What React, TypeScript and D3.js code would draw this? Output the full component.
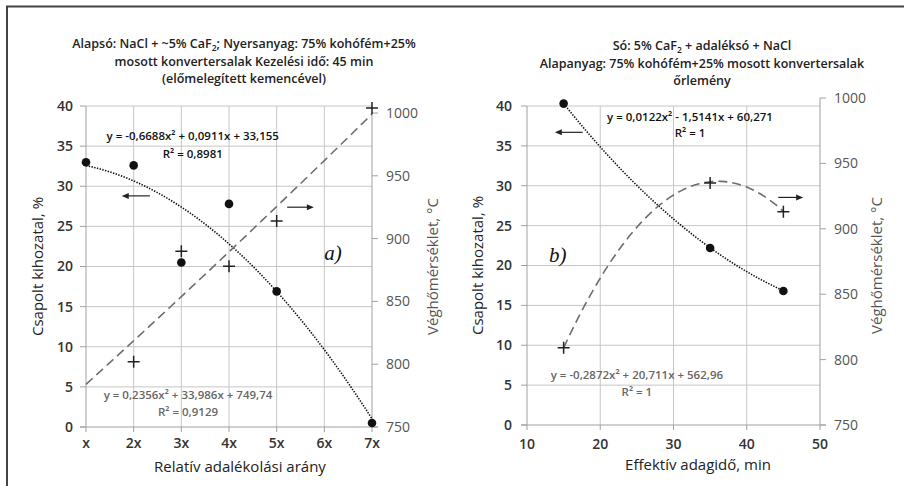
import * as d3 from 'd3';
import { useEffect, useRef } from 'react';

const W = 904;
const H = 486;

// ---- panel a) : relative additive ratio ----
const aCats = ['x', '2x', '3x', '4x', '5x', '6x', '7x'];
const aYieldX = [1, 2, 3, 4, 5, 7];
const aYield = [33.0, 32.6, 20.5, 27.8, 16.9, 0.5];
const aTempX = [2, 3, 4, 5, 7];
const aTemp = [802, 890, 878, 914, 1004];
const aYieldFit = [-0.6688, 0.0911, 33.155];
const aTempFit = [0.2356, 33.986, 749.74];
const aTitle = ['Alapsó: NaCl + ~5% CaF|2|; Nyersanyag: 75% kohófém+25%', 'mosott konvertersalak Kezelési idő: 45 min', '(előmelegített kemencével)'];

// ---- panel b) : effective batch time ----
const bTicks = [10, 20, 30, 40, 50];
const bTime = [15, 35, 45];
const bYield = [40.3, 22.2, 16.8];
const bTemp = [809, 935, 913];
const bYieldFit = [0.0122, -1.5141, 60.271];
const bTempFit = [-0.2872, 20.711, 562.96];
const bTitle = ['Só: 5% CaF|2| + adaléksó + NaCl', 'Alapanyag: 75% kohófém+25% mosott konvertersalak', 'őrlemény'];

const yieldTicks = [0, 5, 10, 15, 20, 25, 30, 35, 40];
const tempTicks = [750, 800, 850, 900, 950, 1000];

const FONT = "'Open Sans', sans-serif";

const poly = (c: number[]) => (x: number) => c[0] * x * x + c[1] * x + c[2];

function drawPanel(svg, cfg) {
  const { x0, x1, yTop, yBot, rTop, xDomain } = cfg;
  const x = d3.scaleLinear().domain(xDomain).range([x0, x1]);
  const yL = d3.scaleLinear().domain([0, 40]).range([yBot, yTop]);
  const yR = d3.scaleLinear().domain([750, 1000]).range([yBot, rTop]);
  const g = svg.append('g');

  // title (|..| marks a subscript)
  cfg.title.forEach((line, i) => {
    const t = g.append('text')
      .attr('x', cfg.titleX)
      .attr('y', cfg.titleY + i * 17.5)
      .attr('text-anchor', 'middle')
      .attr('font-size', 12.5)
      .attr('font-weight', 600)
      .attr('fill', '#222');
    let shift = 0;
    line.split('|').forEach((part, j) => {
      const sub = j % 2 === 1;
      const dy = sub ? 3 : -shift;
      shift = sub ? 3 : 0;
      t.append('tspan').attr('dy', dy).attr('font-size', sub ? 8.5 : null).text(part);
    });
  });

  // gridlines
  g.append('g').selectAll('line').data(yieldTicks.slice(1)).join('line')
    .attr('x1', x0).attr('x2', x1)
    .attr('y1', (d) => yL(d)).attr('y2', (d) => yL(d))
    .attr('stroke', '#c6c6c6');
  g.append('g').selectAll('line').data(cfg.vTicks.slice(1, -1)).join('line')
    .attr('x1', (d) => x(d)).attr('x2', (d) => x(d))
    .attr('y1', yTop).attr('y2', yBot)
    .attr('stroke', '#c6c6c6');

  // axes lines
  g.append('line').attr('x1', x0).attr('x2', x0).attr('y1', yTop).attr('y2', yBot).attr('stroke', '#a0a0a0');
  g.append('line').attr('x1', x1).attr('x2', x1).attr('y1', rTop).attr('y2', yBot).attr('stroke', '#a0a0a0');
  g.append('line').attr('x1', x0 - 6).attr('x2', x1 + 6).attr('y1', yBot).attr('y2', yBot).attr('stroke', '#a0a0a0');

  // left ticks
  g.append('g').selectAll('line').data(yieldTicks).join('line')
    .attr('x1', x0 - 6).attr('x2', x0).attr('y1', (d) => yL(d)).attr('y2', (d) => yL(d)).attr('stroke', '#a0a0a0');
  g.append('g').selectAll('text').data(yieldTicks).join('text')
    .attr('x', x0 - cfg.lGap).attr('y', (d) => yL(d)).attr('dy', '0.35em')
    .attr('text-anchor', 'end').attr('font-size', 14).attr('font-weight', 600).attr('fill', '#333')
    .text((d) => d);

  // right ticks
  g.append('g').selectAll('line').data(tempTicks).join('line')
    .attr('x1', x1).attr('x2', x1 + 6).attr('y1', (d) => yR(d)).attr('y2', (d) => yR(d)).attr('stroke', '#a0a0a0');
  g.append('g').selectAll('text').data(tempTicks).join('text')
    .attr('x', x1 + cfg.rGap).attr('y', (d) => yR(d)).attr('dy', '0.35em')
    .attr('font-size', 14).attr('fill', '#555')
    .text((d) => d);

  // x ticks
  g.append('g').selectAll('line').data(cfg.vTicks).join('line')
    .attr('x1', (d) => x(d)).attr('x2', (d) => x(d)).attr('y1', yBot).attr('y2', yBot + 5).attr('stroke', '#a0a0a0');
  g.append('g').selectAll('text').data(cfg.vTicks).join('text')
    .attr('x', (d) => x(d)).attr('y', cfg.xTickY).attr('dy', '0.35em')
    .attr('text-anchor', 'middle').attr('font-size', 14).attr('font-weight', 600).attr('fill', '#333')
    .text((d, i) => cfg.vLabels[i]);

  // axis titles
  g.append('text').attr('transform', `translate(${cfg.lTitleX},${(yTop + yBot) / 2}) rotate(-90)`)
    .attr('text-anchor', 'middle').attr('dy', '0.35em').attr('font-size', 15).attr('fill', '#222')
    .text('Csapolt kihozatal, %');
  g.append('text').attr('transform', `translate(${cfg.rTitleX},${(yTop + yBot) / 2}) rotate(-90)`)
    .attr('text-anchor', 'middle').attr('dy', '0.35em').attr('font-size', 15).attr('fill', '#555')
    .text('Véghőmérséklet, °C');
  g.append('text').attr('x', cfg.xTitleX).attr('y', cfg.xTitleY).attr('dy', '0.35em')
    .attr('text-anchor', 'middle').attr('font-size', 15).attr('fill', '#222')
    .text(cfg.xTitle);

  // trendlines
  const xs = d3.range(cfg.fitRange[0], cfg.fitRange[1] + 1e-9, (cfg.fitRange[1] - cfg.fitRange[0]) / 60);
  const fy = poly(cfg.yieldFit);
  const ft = poly(cfg.tempFit);
  g.append('path')
    .attr('d', d3.line().x((d) => x(d)).y((d) => yL(fy(d)))(xs))
    .attr('fill', 'none').attr('stroke', '#111').attr('stroke-width', 1.6).attr('stroke-dasharray', '1.4 1.4');
  g.append('path')
    .attr('d', d3.line().x((d) => x(d)).y((d) => yR(ft(d)))(xs))
    .attr('fill', 'none').attr('stroke', '#6e6e6e').attr('stroke-width', 1.6).attr('stroke-dasharray', '9 5');

  // points
  g.append('g').selectAll('circle').data(cfg.yX).join('circle')
    .attr('cx', (d) => x(d)).attr('cy', (d, i) => yL(cfg.yV[i])).attr('r', 4.3).attr('fill', '#111');
  g.append('g').selectAll('path').data(cfg.tX).join('path')
    .attr('d', (d, i) => {
      const px = x(d), py = yR(cfg.tV[i]);
      return `M${px - 6},${py}H${px + 6}M${px},${py - 6}V${py + 6}`;
    })
    .attr('stroke', '#222').attr('stroke-width', 1.5);

  // arrows
  cfg.arrows.forEach((a) => {
    const sy = a.axis === 'L' ? yL(a.y) : yR(a.y);
    const xa = x(a.from), xb = x(a.to);
    const dir = Math.sign(xb - xa);
    g.append('line').attr('x1', xa).attr('x2', xb - dir * 5).attr('y1', sy).attr('y2', sy).attr('stroke', '#222').attr('stroke-width', 1.2);
    g.append('path').attr('d', `M${xb},${sy}L${xb - dir * 7},${sy - 3}L${xb - dir * 7},${sy + 3}Z`).attr('fill', '#222');
  });

  // labels / equations
  cfg.notes.forEach((n) => {
    g.append('text').attr('x', x(n.x)).attr('y', yL(n.y)).attr('dy', '0.35em')
      .attr('text-anchor', 'middle')
      .attr('font-size', n.size).attr('fill', n.color)
      .attr('font-family', n.serif ? "'Liberation Serif', serif" : FONT)
      .attr('font-style', n.serif ? 'italic' : 'normal')
      .attr('font-weight', n.serif ? 400 : 600)
      .text(n.text);
  });
}

export default function App() {
  const ref = useRef<SVGSVGElement>(null);

  useEffect(() => {
    const svg = d3.select(ref.current);
    svg.selectAll('*').remove();
    svg.attr('font-family', FONT);
    svg.append('rect').attr('width', W).attr('height', H).attr('fill', '#fff');
    // frame
    svg.append('line').attr('x1', 6).attr('x2', W).attr('y1', 6.5).attr('y2', 6.5).attr('stroke', '#444').attr('stroke-width', 2);
    svg.append('line').attr('x1', 7).attr('x2', 7).attr('y1', 6).attr('y2', H).attr('stroke', '#444').attr('stroke-width', 2);

    drawPanel(svg, {
      x0: 86, x1: 372, yTop: 106, yBot: 427, rTop: 113,
      xDomain: [1, 7], vTicks: [1, 2, 3, 4, 5, 6, 7], vLabels: aCats,
      title: aTitle, titleX: 244, titleY: 48,
      lGap: 13, rGap: 14, xTickY: 443,
      lTitleX: 38, rTitleX: 433, xTitleX: 240, xTitleY: 467,
      xTitle: 'Relatív adalékolási arány',
      fitRange: [1, 7], yieldFit: aYieldFit, tempFit: aTempFit,
      yX: aYieldX, yV: aYield, tX: aTempX, tV: aTemp,
      arrows: [
        { from: 2.34, to: 1.75, y: 28.8, axis: 'L' },
        { from: 5.22, to: 5.78, y: 925, axis: 'R' },
      ],
      notes: [
        { x: 3.24, y: 36.3, text: 'y = -0,6688x² + 0,0911x + 33,155', size: 11.5, color: '#111' },
        { x: 3.24, y: 34.0, text: 'R² = 0,8981', size: 11.5, color: '#111' },
        { x: 3.14, y: 3.99, text: 'y = 0,2356x² + 33,986x + 749,74', size: 11.5, color: '#666' },
        { x: 3.14, y: 1.87, text: 'R² = 0,9129', size: 11.5, color: '#666' },
        { x: 6.18, y: 21.7, text: 'a)', size: 21, color: '#111', serif: true },
      ],
    });

    drawPanel(svg, {
      x0: 527, x1: 820, yTop: 106, yBot: 425, rTop: 98,
      xDomain: [10, 50], vTicks: bTicks, vLabels: bTicks.map(String),
      title: bTitle, titleX: 702, titleY: 50,
      lGap: 15, rGap: 14, xTickY: 444,
      lTitleX: 478, rTitleX: 877, xTitleX: 698, xTitleY: 465,
      xTitle: 'Effektív adagidő, min',
      fitRange: [15, 45], yieldFit: bYieldFit, tempFit: bTempFit,
      yX: bTime, yV: bYield, tX: bTime, tV: bTemp,
      arrows: [
        { from: 17.6, to: 13.8, y: 36.7, axis: 'L' },
        { from: 44.3, to: 47.7, y: 924, axis: 'R' },
      ],
      notes: [
        { x: 32.25, y: 38.6, text: 'y = 0,0122x² - 1,5141x + 60,271', size: 11.5, color: '#111' },
        { x: 32.25, y: 36.6, text: 'R² = 1', size: 11.5, color: '#111' },
        { x: 25.0, y: 6.27, text: 'y = -0,2872x² + 20,711x + 562,96', size: 11.5, color: '#666' },
        { x: 25.0, y: 4.14, text: 'R² = 1', size: 11.5, color: '#666' },
        { x: 14.2, y: 21.3, text: 'b)', size: 21, color: '#111', serif: true },
      ],
    });
  }, []);

  return (
    <svg ref={ref} width={W} height={H} style={{ position: 'absolute', left: 0, top: 0 }} />
  );
}
